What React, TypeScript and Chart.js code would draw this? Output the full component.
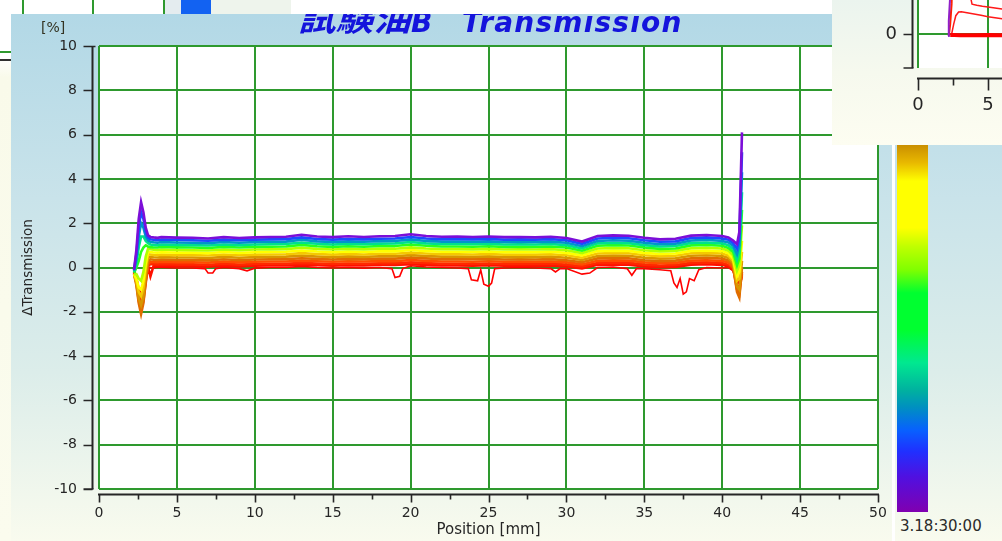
import { useEffect, useRef } from 'react';
import { Chart, registerables } from 'chart.js';

Chart.register(...registerables);

// Sample positions [mm] shared by scans 01-13
const positions = [
  2.25, 2.4, 2.55, 2.7, 2.85, 3.0, 3.15, 3.3, 3.5, 3.75,
  4, 5, 6, 7, 8, 9, 10, 11, 12, 13, 14, 15, 16, 17, 18, 19, 20, 21, 22,
  23, 24, 25, 26, 27, 28, 29, 30, 31, 32, 33, 34, 35, 36, 37, 38, 39, 40,
  40.4, 40.7, 40.95, 41.1, 41.27,
];

// ΔTransmission [%] per scan, latest (scan13) to earliest (scan01)
const scan13 = [-0.1, 0.8, 2.2, 2.95, 2.5, 1.8, 1.45, 1.38, 1.36, 1.34,
  1.37, 1.35, 1.34, 1.31, 1.37, 1.33, 1.36, 1.38, 1.39, 1.48, 1.40, 1.37, 1.41, 1.38, 1.41, 1.42, 1.50, 1.42, 1.39,
  1.40, 1.38, 1.40, 1.37, 1.38, 1.36, 1.39, 1.33, 1.17, 1.42, 1.45, 1.43, 1.34, 1.27, 1.30, 1.44, 1.47, 1.42,
  1.36, 1.22, 1.05, 1.6, 6.1];
const scan12 = [-0.1, 0.6, 1.8, 2.5, 2.2, 1.6, 1.35, 1.27, 1.25, 1.23,
  1.26, 1.25, 1.23, 1.21, 1.26, 1.23, 1.26, 1.27, 1.28, 1.36, 1.29, 1.26, 1.29, 1.27, 1.30, 1.31, 1.38, 1.31, 1.28,
  1.28, 1.27, 1.29, 1.26, 1.27, 1.26, 1.28, 1.23, 1.07, 1.31, 1.34, 1.32, 1.23, 1.16, 1.18, 1.33, 1.36, 1.31,
  1.25, 1.1, 0.85, 1.3, 5.2];
const scan11 = [-0.15, 0.4, 1.4, 2.0, 1.8, 1.4, 1.22, 1.16, 1.14, 1.12,
  1.15, 1.13, 1.12, 1.10, 1.15, 1.12, 1.15, 1.16, 1.17, 1.25, 1.18, 1.15, 1.18, 1.16, 1.19, 1.20, 1.27, 1.20, 1.17,
  1.17, 1.16, 1.18, 1.15, 1.16, 1.15, 1.17, 1.12, 0.96, 1.20, 1.23, 1.21, 1.12, 1.05, 1.07, 1.22, 1.25, 1.20,
  1.13, 0.98, 0.6, 1.0, 4.3];
const scan10 = [-0.2, 0.2, 0.9, 1.4, 1.4, 1.2, 1.1, 1.04, 1.02, 1.01,
  1.04, 1.02, 1.01, 0.99, 1.04, 1.01, 1.04, 1.05, 1.06, 1.13, 1.07, 1.04, 1.07, 1.05, 1.08, 1.09, 1.15, 1.09, 1.06,
  1.06, 1.05, 1.07, 1.04, 1.05, 1.04, 1.06, 1.01, 0.86, 1.09, 1.12, 1.10, 1.01, 0.95, 0.97, 1.11, 1.13, 1.09,
  1.0, 0.85, 0.35, 0.7, 3.4];
const scan09 = [-0.25, 0.0, 0.3, 0.7, 0.9, 1.0, 0.95, 0.92, 0.9, 0.9,
  0.93, 0.91, 0.90, 0.88, 0.93, 0.90, 0.93, 0.94, 0.95, 1.02, 0.96, 0.93, 0.96, 0.94, 0.97, 0.97, 1.04, 0.98, 0.95,
  0.95, 0.94, 0.96, 0.93, 0.94, 0.93, 0.95, 0.90, 0.76, 0.98, 1.01, 0.99, 0.90, 0.84, 0.86, 1.00, 1.02, 0.98,
  0.88, 0.7, 0.1, 0.4, 2.6];
const scan08 = [-0.3, -0.3, -0.5, -0.6, -0.2, 0.5, 0.85, 0.82, 0.8, 0.79,
  0.81, 0.79, 0.78, 0.77, 0.81, 0.78, 0.81, 0.82, 0.83, 0.89, 0.84, 0.81, 0.84, 0.82, 0.85, 0.85, 0.91, 0.86, 0.83,
  0.83, 0.82, 0.84, 0.81, 0.82, 0.81, 0.83, 0.78, 0.65, 0.86, 0.88, 0.87, 0.78, 0.73, 0.75, 0.87, 0.89, 0.86,
  0.76, 0.55, -0.15, 0.1, 1.9];
const scan07 = [-0.3, -0.5, -0.9, -1.0, -0.6, 0.2, 0.7, 0.7, 0.68, 0.67,
  0.69, 0.67, 0.67, 0.65, 0.70, 0.66, 0.69, 0.70, 0.71, 0.77, 0.72, 0.69, 0.72, 0.70, 0.73, 0.73, 0.79, 0.74, 0.71,
  0.71, 0.70, 0.72, 0.69, 0.70, 0.69, 0.71, 0.66, 0.54, 0.74, 0.76, 0.75, 0.66, 0.61, 0.63, 0.75, 0.77, 0.74,
  0.64, 0.4, -0.4, -0.2, 1.2];
const scan06 = [-0.3, -0.6, -1.1, -1.3, -0.9, 0.0, 0.6, 0.59, 0.57, 0.56,
  0.58, 0.56, 0.56, 0.54, 0.59, 0.55, 0.58, 0.59, 0.60, 0.65, 0.61, 0.58, 0.61, 0.59, 0.62, 0.62, 0.67, 0.63, 0.60,
  0.60, 0.59, 0.61, 0.58, 0.59, 0.58, 0.60, 0.55, 0.44, 0.63, 0.65, 0.64, 0.55, 0.51, 0.53, 0.64, 0.66, 0.63,
  0.54, 0.3, -0.6, -0.5, 0.7];
const scan05 = [-0.3, -0.7, -1.4, -1.7, -1.3, -0.3, 0.45, 0.48, 0.46, 0.45,
  0.47, 0.45, 0.45, 0.43, 0.48, 0.44, 0.47, 0.48, 0.49, 0.54, 0.50, 0.47, 0.50, 0.48, 0.51, 0.51, 0.56, 0.52, 0.49,
  0.49, 0.48, 0.50, 0.47, 0.48, 0.47, 0.49, 0.44, 0.34, 0.52, 0.54, 0.53, 0.44, 0.40, 0.42, 0.53, 0.55, 0.52,
  0.43, 0.2, -0.85, -1.0, 0.3];
const scan04 = [-0.3, -0.8, -1.6, -2.1, -1.6, -0.6, 0.3, 0.37, 0.35, 0.34,
  0.36, 0.34, 0.34, 0.32, 0.37, 0.33, 0.36, 0.37, 0.38, 0.42, 0.39, 0.36, 0.39, 0.37, 0.40, 0.40, 0.45, 0.41, 0.38,
  0.38, 0.37, 0.39, 0.36, 0.37, 0.36, 0.38, 0.33, 0.24, 0.41, 0.43, 0.42, 0.33, 0.29, 0.31, 0.42, 0.44, 0.41,
  0.32, 0.1, -1.1, -1.35, 0.0];
const scan03 = [-0.25, -0.7, -1.5, -1.9, -1.5, -0.7, 0.15, 0.26, 0.25, 0.24,
  0.26, 0.24, 0.24, 0.22, 0.27, 0.23, 0.26, 0.27, 0.27, 0.31, 0.28, 0.26, 0.28, 0.27, 0.29, 0.29, 0.34, 0.30, 0.27,
  0.27, 0.26, 0.28, 0.26, 0.27, 0.26, 0.27, 0.23, 0.14, 0.30, 0.32, 0.31, 0.23, 0.19, 0.21, 0.31, 0.33, 0.30,
  0.22, 0.0, -1.0, -1.2, -0.2];
const scan02 = [-0.2, -0.6, -1.3, -1.6, -1.3, -0.6, 0.05, 0.16, 0.15, 0.14,
  0.16, 0.14, 0.14, 0.12, 0.17, 0.13, 0.16, 0.17, 0.17, 0.21, 0.18, 0.16, 0.18, 0.17, 0.19, 0.19, 0.23, 0.20, 0.17,
  0.17, 0.16, 0.18, 0.16, 0.17, 0.16, 0.17, 0.13, 0.05, 0.20, 0.22, 0.21, 0.13, 0.09, 0.11, 0.21, 0.23, 0.20,
  0.12, -0.05, -0.8, -0.9, -0.3];
const scan01 = [-0.2, -0.5, -1.1, -1.4, -1.1, -0.5, 0.0, -0.4, 0.07, 0.07,
  0.08, 0.06, 0.06, 0.04, 0.09, 0.05, 0.08, 0.09, 0.09, 0.12, 0.10, 0.08, 0.10, 0.09, 0.11, 0.11, 0.15, 0.12, 0.09,
  0.09, 0.08, 0.10, 0.08, 0.09, 0.08, 0.09, 0.05, -0.04, 0.12, 0.14, 0.13, 0.05, 0.01, 0.03, 0.13, 0.15, 0.12,
  0.05, -0.1, -0.6, -0.7, -0.4];

// First scan, sampled more finely around its local dips
const scan00Pos = [
  2.25, 2.4, 2.55, 2.7, 2.85, 3.0, 3.15, 3.3, 3.5, 3.75,
  4, 5, 6, 6.8, 7.0, 7.3, 7.5, 8, 9, 9.5,
  10, 11, 12, 13, 14, 15, 16, 17, 18, 18.8,
  19.0, 19.3, 19.5, 20, 21, 22, 23, 23.7, 23.9, 24.3,
  24.5, 24.7, 25.0, 25.2, 25.4, 26, 27, 28, 29, 29.3,
  29.6, 30, 31, 31.5, 32, 33, 33.9, 34.2, 34.5, 35,
  36, 36.7, 36.9, 37.1, 37.3, 37.5, 37.7, 37.9, 38.2, 38.5,
  39, 40, 40.4, 40.7, 40.95, 41.1, 41.27,
];
const scan00 = [
  -0.15, -0.4, -0.9, -1.2, -0.9, -0.4, -0.05, 0.0, -0.02, 0.0,
  0.0, -0.02, -0.02, -0.05, -0.25, -0.25, -0.05, 0.0, -0.05, -0.15,
  -0.03, 0.0, 0.0, 0.05, 0.0, -0.02, 0.0, -0.03, 0.0, -0.05,
  -0.45, -0.4, -0.05, 0.08, 0.02, 0.0, -0.02, -0.05, -0.55, -0.6,
  -0.1, -0.75, -0.85, -0.7, -0.05, -0.02, 0.0, -0.02, -0.05, -0.2,
  -0.05, -0.05, -0.3, -0.25, 0.0, 0.02, -0.05, -0.35, -0.05, -0.05,
  -0.1, -0.15, -0.7, -0.9, -0.5, -1.2, -1.1, -0.5, -0.6, -0.1,
  0.0, -0.02, 0.0, -0.15, -0.5, -0.6, -0.5,
];

const scanColors = [
  '#ff0000', '#ff1000', '#ff2800', '#ff4c00', '#e06c00', '#d89600', '#f5c800',
  '#ffff00', '#b0ff00', '#28ff20', '#00e08c', '#0096c8', '#1a4cff', '#7c0ed8',
];

// Overview inset (top right window)
const insetYTicks = [0, 20, 40];
const insetBaseX = [2.3, 2.6, 3, 4, 5, 6, 7, 8, 9, 10];
const insetBaseY = [-0.2, -0.2, -0.3, -0.3, -0.2, -0.3, -0.3, -0.3, -0.3, -0.3];
const insetRiseX = [2.4, 2.55, 2.7, 2.9, 3.1, 3.5, 4, 4.5, 5, 5.5, 6, 7];
const insetRiseY = [0, 3, 5.5, 6.6, 6.7, 6.4, 6.0, 5.6, 5.2, 4.9, 4.6, 4.0];
const insetUpperX = [3.7, 3.86, 4.2, 4.6, 5, 5.5, 6, 7];
const insetUpperY = [12, 8.9, 8.6, 8.3, 8.1, 7.8, 7.5, 7.0];
const insetSpikeX = [2.15, 2.2, 2.28, 2.35];
const insetSpikeY = [-0.5, 4, 10, 16];
const insetSpike2X = [2.2, 2.3, 2.4, 2.45];
const insetSpike2Y = [-0.5, 3, 9, 16];

const FONT = "'DejaVu Sans', 'Noto Sans', sans-serif";
const GRID = '#2e992e';
const INK = '#262626';

const zip = (xs: number[], ys: number[]) => xs.map((x, i) => ({ x, y: ys[i] }));

type FrameOpts = {
  yGap: number; yTick: number; topCap: number; bottomCap: number;
  xGap: number; xMajor: number; xMinor: number;
};

// Detached axis lines with outward ticks, drawn beside the plot frame
const makeFrame = (o: FrameOpts) => ({
  id: 'axisFrame',
  afterDraw(chart: any) {
    const { ctx, chartArea: a, scales } = chart;
    const xs = scales.x;
    const ys = scales.y;
    ctx.save();
    ctx.strokeStyle = INK;
    const ax = Math.round(a.left - o.yGap) + 0.5;
    ctx.lineWidth = 2;
    ctx.beginPath();
    ctx.moveTo(ax, a.top);
    ctx.lineTo(ax, a.bottom);
    ctx.stroke();
    ctx.lineWidth = 1.6;
    ctx.beginPath();
    for (const t of ys.ticks) {
      const py = Math.round(ys.getPixelForValue(t.value)) + 0.5;
      ctx.moveTo(ax - o.yTick, py);
      ctx.lineTo(ax, py);
    }
    if (o.topCap > 0) {
      ctx.moveTo(ax - o.yTick, a.top + 0.5);
      ctx.lineTo(ax + o.topCap, a.top + 0.5);
    }
    ctx.moveTo(ax - (o.bottomCap > 2 ? o.yTick : o.bottomCap), a.bottom);
    ctx.lineTo(ax + 1, a.bottom);
    ctx.stroke();

    const ay = Math.round(a.bottom + o.xGap) + 0.5;
    ctx.lineWidth = 2;
    ctx.beginPath();
    ctx.moveTo(a.left - 1, ay);
    ctx.lineTo(a.right + 1, ay);
    ctx.stroke();
    ctx.lineWidth = 1.6;
    ctx.beginPath();
    const step = xs.ticks.length > 1 ? xs.ticks[1].value - xs.ticks[0].value : 5;
    for (const t of xs.ticks) {
      const px = Math.round(xs.getPixelForValue(t.value)) + 0.5;
      ctx.moveTo(px, ay);
      ctx.lineTo(px, ay + o.xMajor);
      const mid = t.value + step / 2;
      if (mid < xs.max) {
        const pm = Math.round(xs.getPixelForValue(mid)) + 0.5;
        ctx.moveTo(pm, ay);
        ctx.lineTo(pm, ay + o.xMinor);
      }
    }
    ctx.stroke();
    ctx.restore();
  },
});

const plotBackground = {
  id: 'plotBackground',
  beforeDraw(chart: any) {
    const { ctx, chartArea: a } = chart;
    ctx.save();
    ctx.fillStyle = '#ffffff';
    ctx.fillRect(a.left, a.top, a.right - a.left, a.bottom - a.top);
    ctx.restore();
  },
};

export default function App() {
  const mainRef = useRef<HTMLCanvasElement>(null);
  const insetRef = useRef<HTMLCanvasElement>(null);

  useEffect(() => {
    const latestFirst = [scan13, scan12, scan11, scan10, scan09, scan08, scan07, scan06, scan05, scan04, scan03, scan02, scan01];
    const datasets: any[] = latestFirst.map((vals, i) => ({
      data: zip(positions, vals),
      borderColor: scanColors[13 - i],
      borderWidth: 2.6,
      pointRadius: 0,
      tension: 0,
    }));
    datasets.push({
      data: zip(scan00Pos, scan00),
      borderColor: scanColors[0],
      borderWidth: 1.6,
      pointRadius: 0,
      tension: 0,
    });

    const main = new Chart(mainRef.current!, {
      type: 'line',
      data: { datasets },
      options: {
        animation: false,
        responsive: false,
        devicePixelRatio: 1,
        layout: { padding: { top: 46, right: 14, left: 0, bottom: 0 } },
        plugins: { legend: { display: false }, tooltip: { enabled: false } },
        scales: {
          x: {
            type: 'linear', min: 0, max: 50,
            ticks: { stepSize: 5, padding: 0, color: INK, font: { family: FONT, size: 14 } },
            grid: { color: GRID, lineWidth: 2, drawTicks: true, tickLength: 16, tickColor: 'rgba(0,0,0,0)' },
            border: { display: false },
            title: { display: true, text: 'Position [mm]', color: INK, font: { family: FONT, size: 15 }, padding: { top: 0, bottom: 2 } },
            afterFit: (s: any) => { s.height = 52; },
          },
          y: {
            type: 'linear', min: -10, max: 10,
            ticks: { stepSize: 2, padding: 22, color: INK, font: { family: FONT, size: 14 } },
            grid: { color: GRID, lineWidth: 2, drawTicks: false },
            border: { display: false },
            title: { display: true, text: 'ΔTransmission', color: INK, font: { family: FONT, size: 13.5 }, padding: { top: 20, bottom: 0 } },
            afterFit: (s: any) => { s.width = 99; },
          },
        },
      } as any,
      plugins: [plotBackground, makeFrame({ yGap: 7, yTick: 9, topCap: 3, bottomCap: 9, xGap: 5, xMajor: 8, xMinor: 5 })],
    });

    const inset = new Chart(insetRef.current!, {
      type: 'line',
      data: {
        datasets: [
          { data: zip(insetSpikeX, insetSpikeY), borderColor: '#9020c8', borderWidth: 2, pointRadius: 0 },
          { data: zip(insetSpike2X, insetSpike2Y), borderColor: '#ff2000', borderWidth: 2, pointRadius: 0 },
          { data: zip(insetBaseX, insetBaseY), borderColor: '#ff0000', borderWidth: 4, pointRadius: 0 },
          { data: zip(insetRiseX, insetRiseY), borderColor: '#ff1a1a', borderWidth: 1.5, pointRadius: 0 },
          { data: zip(insetUpperX, insetUpperY), borderColor: '#ff1a1a', borderWidth: 1.5, pointRadius: 0 },
        ],
      },
      options: {
        animation: false,
        responsive: false,
        devicePixelRatio: 1,
        layout: { padding: { top: 16, right: 14, left: 0, bottom: 0 } },
        plugins: { legend: { display: false }, tooltip: { enabled: false } },
        scales: {
          x: {
            type: 'linear', min: 0, max: 10,
            ticks: { stepSize: 5, padding: 0, color: INK, font: { family: FONT, size: 18 } },
            grid: { color: GRID, lineWidth: 2, drawTicks: true, tickLength: 27, tickColor: 'rgba(0,0,0,0)' },
            border: { display: false },
            afterFit: (s: any) => { s.height = 77; },
          },
          y: {
            type: 'linear', min: -10, max: 60,
            ticks: { padding: 21, color: INK, font: { family: FONT, size: 18 } },
            afterBuildTicks: (s: any) => { s.ticks = insetYTicks.map((v) => ({ value: v })); },
            grid: { color: GRID, lineWidth: 2, drawTicks: false },
            border: { display: false },
            afterFit: (s: any) => { s.width = 86; },
          },
        },
      } as any,
      plugins: [plotBackground, makeFrame({ yGap: 6, yTick: 9, topCap: 0, bottomCap: 6, xGap: 10, xMajor: 12, xMinor: 7 })],
    });

    return () => {
      main.destroy();
      inset.destroy();
    };
  }, []);

  const panelBg = 'linear-gradient(to bottom, #b2d8e6 0%, #c9e3ea 35%, #dcedea 68%, #f9fbee 100%)';
  const titleStyle = { position: 'absolute' as const, whiteSpace: 'pre' as const, color: '#1414dc', fontStyle: 'italic', fontWeight: 'bold' as const };

  return (
    <div style={{ position: 'fixed', left: 0, top: 0, width: 1002, height: 541, overflow: 'hidden', background: '#ffffff', fontFamily: FONT }}>
      {/* window behind, top-left */}
      <div style={{ position: 'absolute', left: 0, top: 0, width: 172, height: 40, background: '#ffffff' }} />
      {[23, 93, 164].map((x) => (
        <div key={x} style={{ position: 'absolute', left: x - 1, top: 0, width: 2, height: 40, background: GRID }} />
      ))}
      <div style={{ position: 'absolute', left: 165, top: 0, width: 16, height: 40, background: '#e4ecef' }} />
      <div style={{ position: 'absolute', left: 181, top: 0, width: 30, height: 40, background: '#1262f2' }} />
      <div style={{ position: 'absolute', left: 211, top: 0, width: 80, height: 40, background: '#eef4ec' }} />
      <div style={{ position: 'absolute', left: 0, top: 14, width: 11, height: 527, background: 'linear-gradient(to bottom, #ffffff 0%, #ffffff 8%, #f9faea 12%, #fbfcee 100%)' }} />
      <div style={{ position: 'absolute', left: 0, top: 51, width: 11, height: 2, background: GRID }} />
      <div style={{ position: 'absolute', left: 0, top: 59, width: 11, height: 2, background: '#303030' }} />

      {/* main chart window */}
      <div style={{ position: 'absolute', left: 11, top: 14, width: 881, height: 527, overflow: 'hidden', background: panelBg }}>
        <canvas ref={mainRef} width={892} height={541} style={{ position: 'absolute', left: -11, top: -14, width: 892, height: 541 }} />
        <div style={{ position: 'absolute', left: 0, top: 0, width: 881, height: 40 }}>
          <span style={{ ...titleStyle, left: 287, top: -13, fontFamily: "'Noto Sans CJK JP', sans-serif", fontSize: 32, lineHeight: '32px', transform: 'scaleX(1.17)', transformOrigin: 'left center' }}>試験油</span>
          <span style={{ ...titleStyle, left: 400, top: -5, fontFamily: FONT, fontSize: 28, lineHeight: '28px' }}>B</span>
          <span style={{ ...titleStyle, left: 451, top: -5, fontFamily: FONT, fontSize: 28, lineHeight: '28px', letterSpacing: 1.2 }}>Transmission</span>
        </div>
        <div style={{ position: 'absolute', left: 30, top: 5, fontSize: 14, color: '#333322', lineHeight: '16px' }}>[%]</div>
      </div>

      {/* colour scale panel */}
      <div style={{ position: 'absolute', left: 892, top: 14, width: 3, height: 527, background: '#ffffff' }} />
      <div style={{ position: 'absolute', left: 895, top: 14, width: 107, height: 527, background: panelBg }}>
        <div style={{
          position: 'absolute', left: 2, top: 32, width: 31, height: 466,
          background: 'linear-gradient(to bottom, #ff0000 0%, #ff5000 10%, #c88c00 21%, #e8b800 25%, #ffff00 29%, #ffff00 39%, #c0ff00 43%, #80ff00 48%, #00ff30 53%, #00ff30 61%, #00e890 68%, #00b0a0 74%, #0090c0 77.5%, #0860ff 82.5%, #2030ff 87%, #5010e0 92.5%, #8000b0 100%)',
        }} />
        <div style={{ position: 'absolute', left: 5, top: 503, fontSize: 15, color: '#2a2a2a', lineHeight: '18px', whiteSpace: 'pre' }}>3.18:30:00</div>
      </div>

      {/* overview window, top-right */}
      <div style={{ position: 'absolute', left: 832, top: 0, width: 170, height: 145, overflow: 'hidden', background: 'linear-gradient(to bottom, #ebf4ee 0%, #f6f9ee 50%, #fdfdf1 100%)' }}>
        <canvas ref={insetRef} width={240} height={345} style={{ position: 'absolute', left: 0, top: -200, width: 240, height: 345 }} />
      </div>
    </div>
  );
}
